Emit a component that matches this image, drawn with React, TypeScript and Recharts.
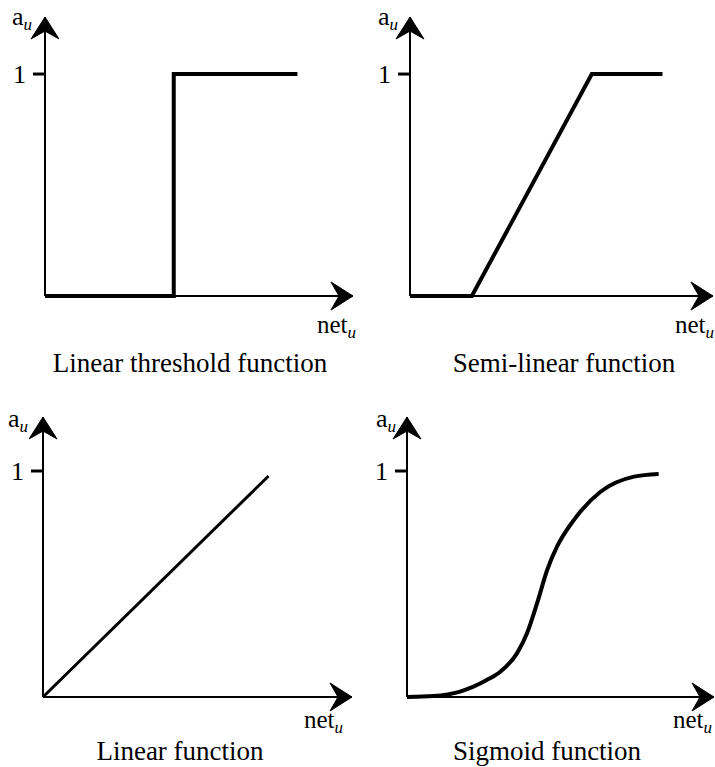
import React from 'react'
import { LineChart, Line, XAxis, YAxis, ReferenceDot, Customized } from 'recharts'

const FONT = 'Liberation Serif, DejaVu Serif, serif'

// values (net in arbitrary units, a in [0, 1])
const thresholdNet = [0, 5.1, 5.1, 10]
const thresholdAct = [0, 0, 1, 1]
const semiNet = [0, 2.45, 7.2, 10]
const semiAct = [0, 0, 1, 1]
const linearNet = [0, 10]
const linearAct = [0, 0.978]
const sigmoidNet = [0, 1.05, 2.11, 3.17, 3.71, 4.37, 4.77, 5.17, 5.57, 5.96, 6.63, 7.69, 9.02, 10]
const sigmoidAct = [0, 0.004, 0.024, 0.075, 0.112, 0.193, 0.282, 0.415, 0.562, 0.665, 0.783, 0.908, 0.975, 0.987]
const yTicks = [1]
const titles = ['Linear threshold function', 'Semi-linear function', 'Linear function', 'Sigmoid function']
const yName = 'a'
const xName = 'net'
const subName = 'u'

const rows = (net: number[], act: number[]) => net.map((n, i) => ({ net: n, act: act[i] }))

const panels = [
  {
    title: titles[0], data: rows(thresholdNet, thresholdAct), curve: 'linear', lineWidth: 4,
    left: 0, top: 0, xMax: 12.2, yMax: 1.257,
    margin: { top: 17, right: 4, bottom: 86, left: 44 },
    yLabel: [12, 25], xLabel: [317, 333], titlePos: [190, 372],
  },
  {
    title: titles[1], data: rows(semiNet, semiAct), curve: 'linear', lineWidth: 4,
    left: 358, top: 0, xMax: 12, yMax: 1.257,
    margin: { top: 17, right: 2, bottom: 86, left: 51 },
    yLabel: [378, 25], xLabel: [675, 333], titlePos: [564, 372],
  },
  {
    title: titles[2], data: rows(linearNet, linearAct), curve: 'linear', lineWidth: 3,
    left: 0, top: 384, xMax: 13.7, yMax: 1.239,
    margin: { top: 33, right: 5, bottom: 69, left: 42 },
    yLabel: [8, 427], xLabel: [304, 728], titlePos: [180, 760],
  },
  {
    title: titles[3], data: rows(sigmoidNet, sigmoidAct), curve: 'monotone', lineWidth: 4,
    left: 358, top: 384, xMax: 12.2, yMax: 1.239,
    margin: { top: 33, right: 1, bottom: 69, left: 48 },
    yLabel: [376, 427], xLabel: [673, 728], titlePos: [547, 760],
  },
]

function Arrow({ cx, cy, dir }: any) {
  const len = 22, half = 14, notch = 14
  const d = dir === 'right'
    ? `M${cx},${cy} L${cx - len},${cy - half} L${cx - notch},${cy} L${cx - len},${cy + half} Z`
    : `M${cx},${cy} L${cx - half},${cy + len} L${cx},${cy + notch} L${cx + half},${cy + len} Z`
  return <path d={d} fill="#000" stroke="#000" strokeWidth={1} strokeLinejoin="miter" />
}

function Panel({ p }: any) {
  const W = 357, H = 383
  const lx = (x: number) => x - p.left
  const ly = (y: number) => y - p.top
  const txt = { fontFamily: FONT, fill: '#000' }
  return (
    <div style={{ position: 'absolute', left: p.left, top: p.top }}>
      <LineChart width={W} height={H} data={p.data} margin={p.margin}>
        <XAxis type="number" dataKey="net" domain={[0, p.xMax]} height={1} tick={false} tickLine={false}
          axisLine={{ stroke: '#000', strokeWidth: 2 }} />
        <YAxis type="number" domain={[0, p.yMax]} ticks={yTicks} width={1} tickSize={12} tickMargin={7}
          tickLine={{ stroke: '#000', strokeWidth: 3 }} axisLine={{ stroke: '#000', strokeWidth: 2 }}
          tick={{ fill: '#000', fontSize: 26, fontFamily: FONT }} interval={0} />
        <Line type={p.curve} dataKey="act" stroke="#000" strokeWidth={p.lineWidth} dot={false}
          activeDot={false} isAnimationActive={false} />
        <ReferenceDot x={p.xMax} y={0} r={0} shape={(s: any) => <Arrow cx={s.cx} cy={s.cy} dir="right" />} />
        <ReferenceDot x={0} y={p.yMax} r={0} shape={(s: any) => <Arrow cx={s.cx} cy={s.cy} dir="up" />} />
        <Customized component={() => (
          <g>
            <text x={lx(p.yLabel[0])} y={ly(p.yLabel[1])} fontSize={26} style={txt}>
              {yName}<tspan fontSize={17} fontStyle="italic" dy={5}>{subName}</tspan>
            </text>
            <text x={lx(p.xLabel[0])} y={ly(p.xLabel[1])} fontSize={25} style={txt}>
              {xName}<tspan fontSize={17} fontStyle="italic" dy={5}>{subName}</tspan>
            </text>
            <text x={lx(p.titlePos[0])} y={ly(p.titlePos[1])} fontSize={27} textAnchor="middle" style={txt}>
              {p.title}
            </text>
          </g>
        )} />
      </LineChart>
    </div>
  )
}

export default function App() {
  return (
    <div style={{ position: 'absolute', left: 0, top: 0, width: 715, height: 767, background: '#fff', fontFamily: FONT }}>
      {panels.map((p) => <Panel key={p.title} p={p} />)}
    </div>
  )
}
